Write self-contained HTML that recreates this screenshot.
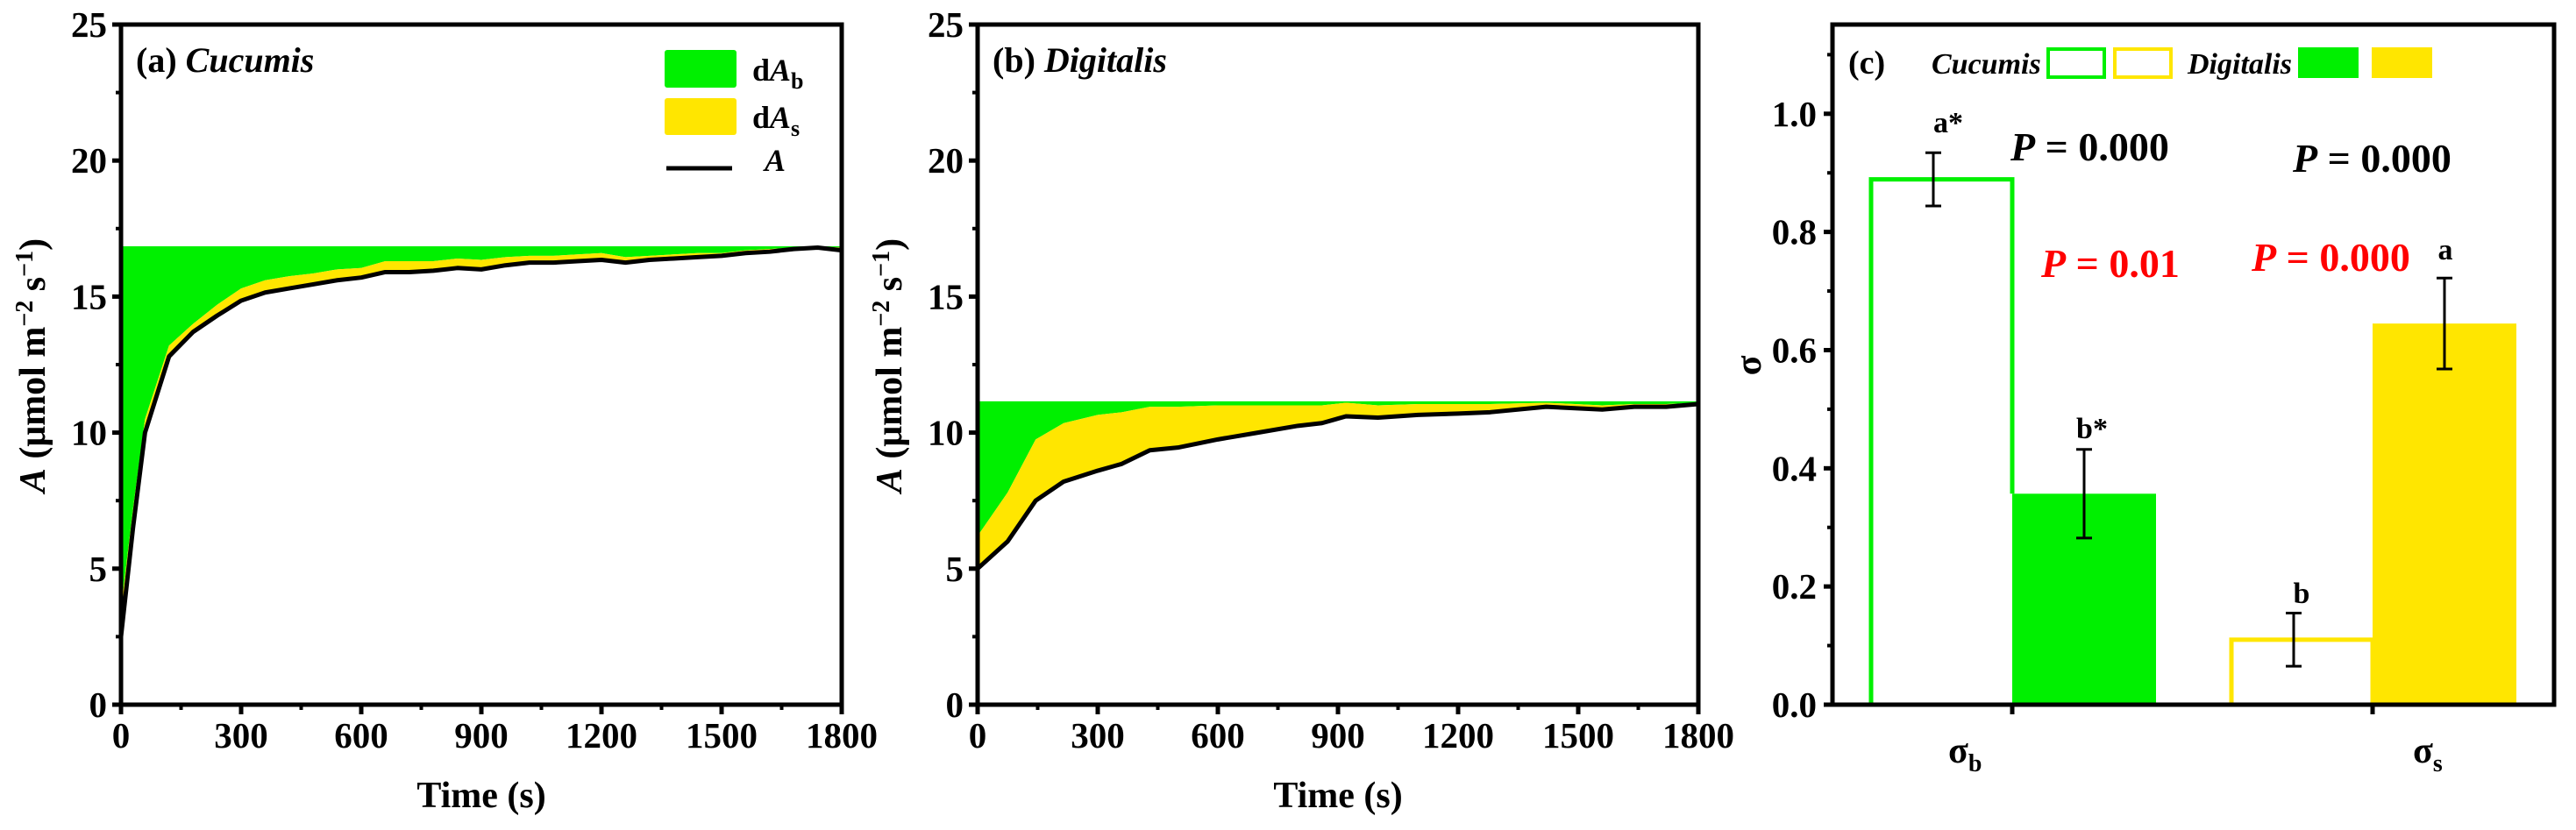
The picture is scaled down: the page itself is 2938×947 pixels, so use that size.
<!DOCTYPE html>
<html><head><meta charset="utf-8"><style>
html,body{margin:0;padding:0;background:#fff;}
svg{display:block;font-family:"Liberation Serif",serif;font-weight:bold;}
</style></head><body>
<svg id="chart" width="2938" height="947" viewBox="0 0 2938 947" xmlns="http://www.w3.org/2000/svg">
<g id="pa"></g>
<g id="pb"></g>
<g id="pc"></g>
</svg>
<script>
const timeA = [0,30,60,120,180,240,300,360,420,480,540,600,660,720,780,840,900,960,1020,1080,1140,1200,1260,1320,1380,1440,1500,1560,1620,1680,1740,1800];
const lineA = [2.5,6.5,10,12.8,13.7,14.3,14.85,15.15,15.3,15.45,15.6,15.7,15.9,15.9,15.95,16.05,16.0,16.15,16.25,16.25,16.3,16.35,16.25,16.35,16.4,16.45,16.5,16.6,16.65,16.75,16.8,16.7];
const yellowTopA = [3.5,7.2,10.5,13.2,14.0,14.7,15.3,15.6,15.75,15.85,16.0,16.05,16.3,16.3,16.3,16.4,16.35,16.45,16.5,16.5,16.55,16.6,16.45,16.5,16.55,16.6,16.6,16.7,16.75,16.8,16.85,16.8];
const greenTopA = 16.85;
const timeB = [0,75,145,215,300,360,430,500,600,700,800,860,920,1000,1100,1200,1280,1420,1560,1640,1720,1800];
const lineB = [5.0,6.0,7.5,8.2,8.6,8.85,9.35,9.45,9.75,10.0,10.25,10.35,10.6,10.55,10.65,10.7,10.75,10.95,10.85,10.95,10.95,11.05];
const yellowTopB = [6.2,7.8,9.75,10.35,10.65,10.75,10.95,10.95,11.0,11.0,11.0,11.0,11.1,11.0,11.05,11.05,11.05,11.1,11.0,11.05,11.05,11.1];
const greenTopB = 11.15;
const xTicks = ["0","300","600","900","1200","1500","1800"];
const yTicksAB = ["0","5","10","15","20","25"];
const barCats = ["σb","σs"];
const cucumisVals = [0.889,0.11];
const cucumisErr = [0.045,0.045];
const digitalisVals = [0.357,0.645];
const digitalisErr = [0.075,0.077];
const yTicksC = ["0.0","0.2","0.4","0.6","0.8","1.0"];

const NS="http://www.w3.org/2000/svg";
function mk(parent,tag,attrs,text){const e=document.createElementNS(NS,tag);for(const k in attrs)e.setAttribute(k,attrs[k]);if(text!==undefined)e.textContent=text;parent.appendChild(e);return e;}
const GREEN="#00f000", YEL="#ffe600";

function linePanel(g,x0,x1,label,species,times,line,ytop,gtop,legend,nameP){
  const y0=804,y1=28;
  const sx=t=>x0+(x1-x0)*t/1800, sy=v=>y0-(y0-y1)*v/25;
  // green area
  let d="M"+sx(times[0])+","+sy(gtop)+" L"+sx(times[times.length-1])+","+sy(gtop);
  for(let i=times.length-1;i>=0;i--) d+=" L"+sx(times[i])+","+sy(ytop[i]);
  const ga=mk(g,"path",{d:d+"Z",fill:GREEN});
  
  
  let d2="M"+sx(times[0])+","+sy(ytop[0]);
  for(let i=1;i<times.length;i++) d2+=" L"+sx(times[i])+","+sy(ytop[i]);
  for(let i=times.length-1;i>=0;i--) d2+=" L"+sx(times[i])+","+sy(line[i]);
  const ya=mk(g,"path",{d:d2+"Z",fill:YEL});
  
  
  const pts=times.map((t,i)=>sx(t)+","+sy(line[i])).join(" ");
  const pl=mk(g,"polyline",{points:pts,fill:"none",stroke:"#000","stroke-width":5,"stroke-linejoin":"round"});
  
  
  const fr=mk(g,"rect",{x:x0,y:y1,width:x1-x0,height:y0-y1,fill:"none",stroke:"#000","stroke-width":5});
  
  
  xTicks.forEach((lab,i)=>{const x=sx(+lab);
    mk(g,"line",{x1:x,x2:x,y1:y0,y2:y0+11,stroke:"#000","stroke-width":5});
    if(i<xTicks.length-1){const xm=sx(+lab+150);mk(g,"line",{x1:xm,x2:xm,y1:y0,y2:y0+6,stroke:"#000","stroke-width":4});}
    const t=mk(g,"text",{x:x,y:853,"text-anchor":"middle","font-size":41},lab);
    
    
  });
  yTicksAB.forEach((lab,i)=>{const y=sy(+lab);
    mk(g,"line",{x1:x0-10,x2:x0,y1:y,y2:y,stroke:"#000","stroke-width":5});
    if(i<yTicksAB.length-1){const ym=sy(+lab+2.5);mk(g,"line",{x1:x0-6,x2:x0,y1:ym,y2:ym,stroke:"#000","stroke-width":4});}
    const t=mk(g,"text",{x:x0-16,y:y+14,"text-anchor":"end","font-size":41},lab);
    
    
  });
  const xt=mk(g,"text",{x:(x0+x1)/2,y:921,"text-anchor":"middle","font-size":42},"Time (s)");
  
  
  const cx=x0-87, cy=417;
  const yt=mk(g,"text",{transform:`translate(${cx},${cy}) rotate(-90)`,"text-anchor":"middle","font-size":42});
  
  
  yt.innerHTML='<tspan font-style="italic">A</tspan> (μmol m<tspan dy="-14" font-size="28">−2</tspan><tspan dy="14"> s</tspan><tspan dy="-14" font-size="28">−1</tspan><tspan dy="14">)</tspan>';
  const pt=mk(g,"text",{x:x0+17,y:82,"font-size":40});
  
  
  pt.innerHTML=label+' <tspan font-style="italic">'+species+'</tspan>';
  if(legend){
    const l1=mk(g,"rect",{x:758,y:57,width:82,height:43,rx:3,fill:GREEN});
    
    const l2=mk(g,"rect",{x:758,y:112,width:82,height:42,rx:3,fill:YEL});
    
    const l3=mk(g,"line",{x1:760,x2:835,y1:192,y2:192,stroke:"#000","stroke-width":5});
    
    const t1=mk(g,"text",{x:858,y:92,"font-size":36});t1.innerHTML='d<tspan font-style="italic">A</tspan><tspan dy="9" font-size="26">b</tspan>';
    
    const t2=mk(g,"text",{x:858,y:146,"font-size":36});t2.innerHTML='d<tspan font-style="italic">A</tspan><tspan dy="9" font-size="26">s</tspan>';
    
    const t3=mk(g,"text",{x:872,y:195,"font-size":36,"font-style":"italic"},"A");
    
  }
}
linePanel(document.getElementById("pa"),138,960,"(a)","Cucumis",timeA,lineA,yellowTopA,greenTopA,true,"panel-a");
linePanel(document.getElementById("pb"),1115,1937,"(b)","Digitalis",timeB,lineB,yellowTopB,greenTopB,false,"panel-b");

// panel c
(function(){
  const g=document.getElementById("pc");
  const x0=2090,x1=2913,y0=804,y1=28,ymax=1.151;
  const sy=v=>y0-(y0-y1)*v/ymax;
  const groupCenters=[2295,2706];
  const bw=164;
  const cols=[GREEN,YEL];
  barCats.forEach((c,i)=>{
    const gc=groupCenters[i];
    const cv=cucumisVals[i], dv=digitalisVals[i];
    const b1=mk(g,"path",{d:`M${gc-bw+3},${y0} V${sy(cv)} H${gc}` + (i==0?` V${sy(dv)}`:` V${y0}`),fill:"none",stroke:cols[i],"stroke-width":5});
    
    
    const b2=mk(g,"rect",{x:gc,y:sy(dv),width:bw,height:y0-sy(dv),fill:cols[i]});
    
    
    [[gc-bw/2-8,cv,cucumisErr[i]],[gc+bw/2,dv,digitalisErr[i]]].forEach(([x,v,e],j)=>{
      const eg=mk(g,"g",{});
      
      
      mk(eg,"line",{x1:x,x2:x,y1:sy(v+e),y2:sy(v-e),stroke:"#000","stroke-width":3});
      mk(eg,"line",{x1:x-9,x2:x+9,y1:sy(v+e),y2:sy(v+e),stroke:"#000","stroke-width":3});
      mk(eg,"line",{x1:x-9,x2:x+9,y1:sy(v-e),y2:sy(v-e),stroke:"#000","stroke-width":3});
    });
    const tk=mk(g,"line",{x1:gc,x2:gc,y1:y0,y2:y0+11,stroke:"#000","stroke-width":5});
    const lab=mk(g,"text",{x:gc-70+ (i?-10:0)+ (i?70:0)*0 ,y:870,"font-size":42});
    lab.setAttribute('x', i==0?2222:2752);
    lab.innerHTML='σ<tspan dy="10" font-size="28">'+c.slice(1)+'</tspan>';
    
    
  });
  const fr=mk(g,"rect",{x:x0,y:y1,width:x1-x0,height:y0-y1,fill:"none",stroke:"#000","stroke-width":5});
  
  
  yTicksC.forEach((lab,i)=>{const y=sy(+lab);
    mk(g,"line",{x1:x0-10,x2:x0,y1:y,y2:y,stroke:"#000","stroke-width":5});
    const ym=sy(+lab+0.1);mk(g,"line",{x1:x0-6,x2:x0,y1:ym,y2:ym,stroke:"#000","stroke-width":4});
    const t=mk(g,"text",{x:2072,y:y+14,"text-anchor":"end","font-size":41},lab);
    
    
  });
  const yt=mk(g,"text",{transform:"translate(2008,417) rotate(-90)","text-anchor":"middle","font-size":42},"σ");
  
  
  const ann=[["a*",2222,151,"#000",34,false],["b*",2386,500,"#000",34,false],["b",2625,688,"#000",34,false],["a",2789,296,"#000",34,false]];
  ann.forEach(a=>{const t=mk(g,"text",{x:a[1],y:a[2],"text-anchor":"middle","font-size":a[4],fill:a[3]},a[0]);
    });
  const ps=[[2293,183,"#000","0.000"],[2328,316,"#f00","0.01"],[2615,196,"#000","0.000"],[2568,309,"#f00","0.000"]];
  ps.forEach(p=>{const t=mk(g,"text",{x:p[0],y:p[1],"font-size":46,fill:p[2]});
    t.innerHTML='<tspan font-style="italic">P</tspan> = '+p[3];
    });
  const c=mk(g,"text",{x:2108,y:84,"font-size":38},"(c)");
  
  const lc=mk(g,"text",{x:2203,y:84,"font-size":34,"font-style":"italic"},"Cucumis");
  
  const ld=mk(g,"text",{x:2495,y:84,"font-size":34,"font-style":"italic"},"Digitalis");
  
  const sw=[[2336,GREEN,false],[2412,YEL,false],[2621,GREEN,true],[2705,YEL,true]];
  sw.forEach(s=>{const r=mk(g,"rect",s[2]?{x:s[0],y:54,width:69,height:35,fill:s[1]}:{x:s[0],y:56,width:64,height:32,fill:"none",stroke:s[1],"stroke-width":4});
    });
})();
</script>
</body></html>
